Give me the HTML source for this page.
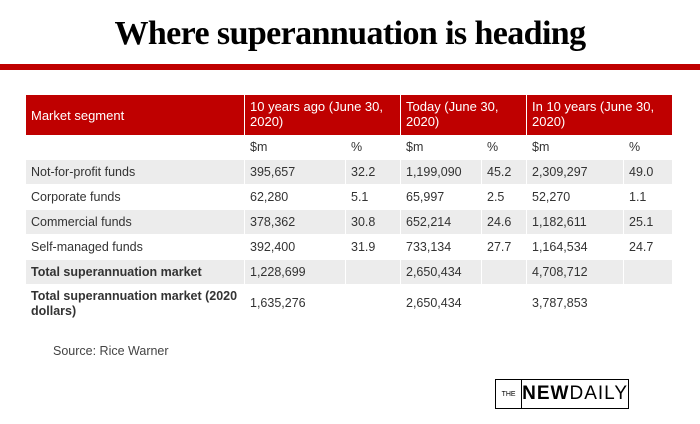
<!DOCTYPE html>
<html><head><meta charset="utf-8"><style>
*{margin:0;padding:0;box-sizing:border-box}
body{width:700px;height:424px;background:#fff;position:relative;overflow:hidden;font-family:"Liberation Sans",sans-serif;color:#333}
.t{position:absolute;left:0;width:700px;top:15px;text-align:center;font-family:"Liberation Serif",serif;font-weight:bold;font-size:34px;color:#000;letter-spacing:-0.6px}
.bar{position:absolute;left:0;top:64px;width:700px;height:6px;background:#bf0000}
.c{position:absolute;font-size:12.5px;padding-left:5px;display:flex;align-items:center;line-height:15px}
.h{background:#bf0000;color:#fff;font-size:13px;align-items:flex-start;padding-top:4px}
.g{background:#ececec}
.b{font-weight:bold}
.src{position:absolute;left:53px;top:344px;font-size:12.5px;color:#444}
.logo{position:absolute;left:495px;top:379px;width:134px;height:30px;border:1.5px solid #000;display:flex;align-items:center}
.logo .the{width:30px;border-right:1.5px solid #000;height:100%;font-size:7px;display:flex;align-items:center;justify-content:center;color:#000}
.logo .nd{flex:1;text-align:center;font-size:19px;color:#000;letter-spacing:1px}
</style></head><body>
<div class="t">Where superannuation is heading</div>
<div class="bar"></div>

<div class="c h" style="left:26px;top:95px;width:218px;height:40px;align-items:center;padding-top:0">Market segment</div>
<div class="c h" style="left:245px;top:95px;width:155px;height:40px">10 years ago (June 30,<br>2020)</div>
<div class="c h" style="left:401px;top:95px;width:125px;height:40px">Today (June 30,<br>2020)</div>
<div class="c h" style="left:527px;top:95px;width:145px;height:40px">In 10 years (June 30,<br>2020)</div>

<div id="rows"></div>
<script>
var cols=[[26,218],[245,100],[346,54],[401,80],[482,44],[527,96],[624,48]];
var rows=[
[135,25,"",["","$m","%","$m","%","$m","%"],0,0],
[160,24,"g",["Not-for-profit funds","395,657","32.2","1,199,090","45.2","2,309,297","49.0"],0],
[185,24,"",["Corporate funds","62,280","5.1","65,997","2.5","52,270","1.1"],0],
[210,24,"g",["Commercial funds","378,362","30.8","652,214","24.6","1,182,611","25.1"],0],
[235,24,"",["Self-managed funds","392,400","31.9","733,134","27.7","1,164,534","24.7"],0],
[260,24,"g",["Total superannuation market","1,228,699","","2,650,434","","4,708,712",""],1],
[285,37,"",["Total superannuation market (2020<br>dollars)","1,635,276","","2,650,434","","3,787,853",""],1]];
var h="";
rows.forEach(function(r){cols.forEach(function(c,i){
h+='<div class="c '+r[2]+(i==0&&r[4]?' b':'')+'" style="left:'+c[0]+'px;top:'+r[0]+'px;width:'+c[1]+'px;height:'+r[1]+'px">'+r[3][i]+'</div>';});});
document.getElementById("rows").innerHTML=h;
</script>

<div class="src">Source: Rice Warner</div>
<div class="logo"><div class="the">THE</div><div class="nd"><b>NEW</b>DAILY</div></div>
</body></html>
